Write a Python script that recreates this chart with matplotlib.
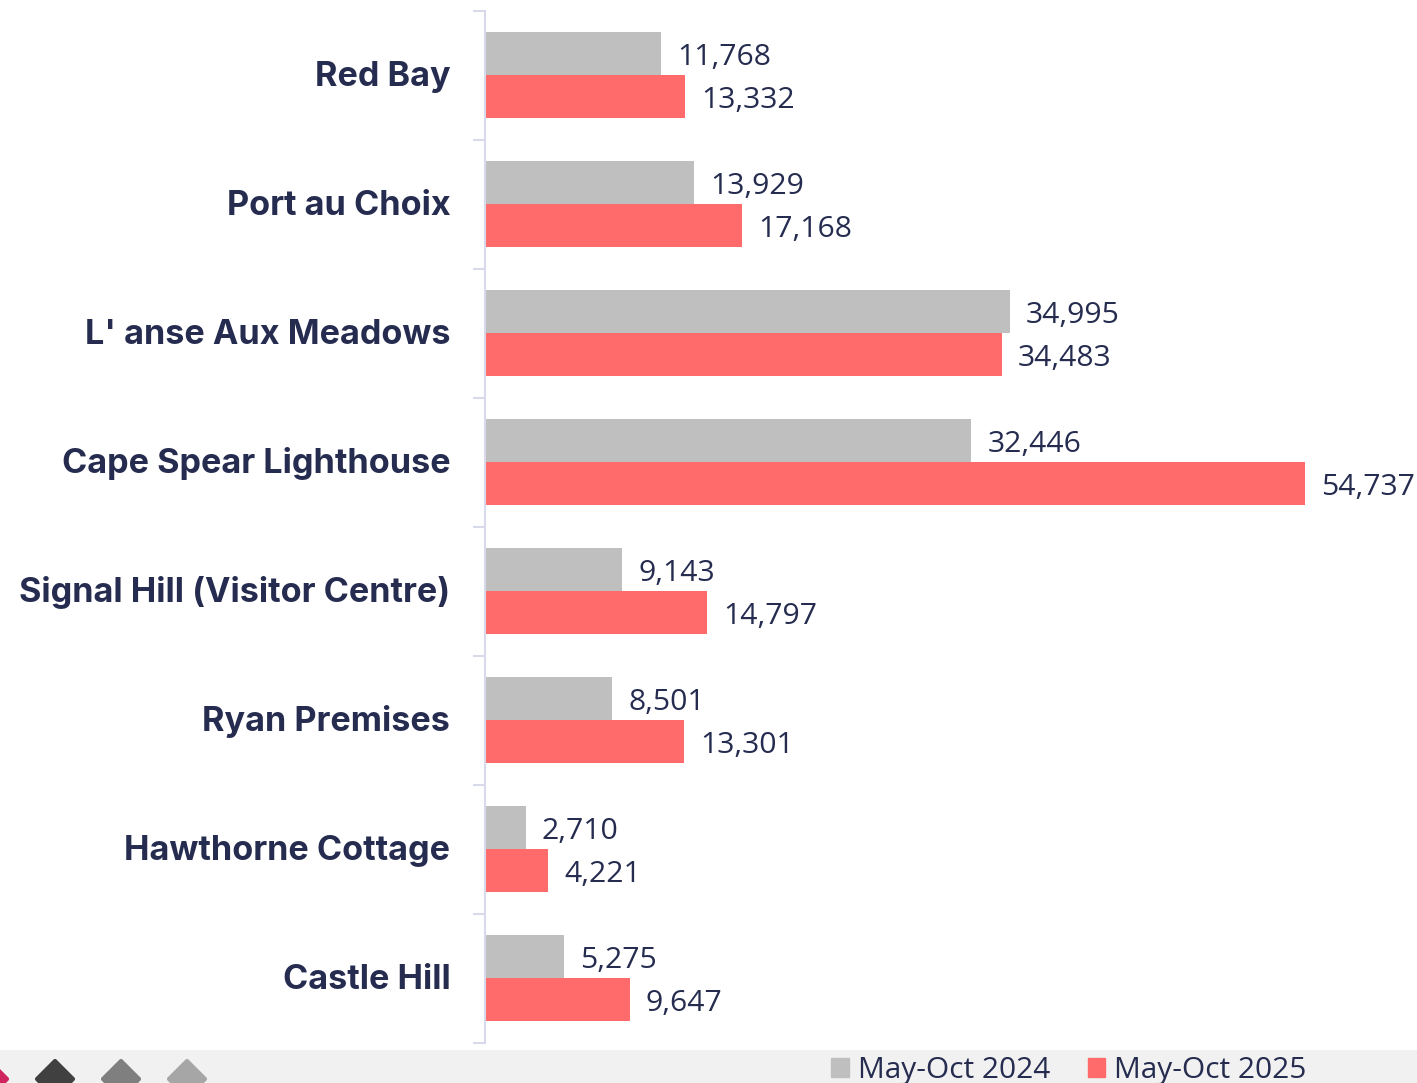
import numpy as np
from matplotlib import pyplot as plt
from matplotlib.patches import Patch, Polygon, Rectangle
from matplotlib.transforms import ScaledTranslation

plt.rcParams['font.family'] = ['Inter', 'DejaVu Sans']

categories = ['Red Bay', 'Port au Choix', "L' anse Aux Meadows", 'Cape Spear Lighthouse',
              'Signal Hill (Visitor Centre)', 'Ryan Premises', 'Hawthorne Cottage', 'Castle Hill']
values_2024 = [11768, 13929, 34995, 32446, 9143, 8501, 2710, 5275]
values_2025 = [13332, 17168, 34483, 54737, 14797, 13301, 4221, 9647]
series_names = ['May-Oct 2024', 'May-Oct 2025']

GREY = '#bfbfbf'
RED = '#ff6b6b'
TEXT = '#252c4f'
AXIS = '#d9d9ec'
NUM_FONT = ['Open Sans', 'DejaVu Sans']
W, H = 1417, 1083

fig = plt.figure(figsize=(W / 100, H / 100), dpi=100)
ax = fig.add_axes([485 / W, 1 - 1042.6 / H, 1 - 485 / W, 1032 / H])

y = np.arange(len(categories))
height = 1 / 3
bars_a = ax.barh(y - height / 2, values_2024, height, color=GREY)
bars_b = ax.barh(y + height / 2, values_2025, height, color=RED)

for rects in (bars_a, bars_b):
    for bar in rects:
        val = int(bar.get_width())
        ax.annotate(f'{val:,}', xy=(val, bar.get_y() + bar.get_height() / 2),
                    xytext=(11.5, -0.6), textcoords='offset points',
                    va='center_baseline', ha='left', fontsize=21.7, color=TEXT, family=NUM_FONT)

ax.set_xlim(0, 62180)
ax.set_ylim(len(categories) - 0.5, -0.5)
ax.set_xticks([])
ax.set_yticks(y)
ax.set_yticklabels(categories, fontsize=24.6, fontweight='bold', color=TEXT)
ax.set_yticks(np.arange(len(categories) + 1) - 0.5, minor=True)
ax.tick_params(axis='y', which='major', length=0, pad=25)
ax.tick_params(axis='y', which='minor', length=9, width=1.5, color=AXIS)
for side in ['top', 'right', 'bottom']:
    ax.spines[side].set_visible(False)
ax.spines['left'].set_color(AXIS)
ax.spines['left'].set_linewidth(1.5)

# category labels sit a little above the bar centre
up = ScaledTranslation(0, 1.5 / 72, fig.dpi_scale_trans)
for lab in ax.get_yticklabels():
    lab.set_transform(lab.get_transform() + up)

# grey strip along the bottom with the cut off diamonds
fig.add_artist(Rectangle((0, 0), 1, 33 / H, transform=fig.transFigure, color='#f1f1f1', lw=0, zorder=-1))
for cx, col in zip([-11, 55, 121, 187], ['#d0245f', '#404040', '#7f7f7f', '#a6a6a6']):
    pts = [(cx - 18, 1079), (cx, 1061), (cx + 18, 1079), (cx, 1097)]
    pts = [(px / W, 1 - py / H) for px, py in pts]
    fig.add_artist(Polygon(pts, closed=True, transform=fig.transFigure, facecolor=col,
                           edgecolor=col, lw=3, joinstyle='round'))

handles = [Patch(color=GREY), Patch(color=RED)]
fig.legend(handles, series_names, loc='center left', bbox_to_anchor=(825 / W, 1 - 1070.5 / H),
           ncol=2, frameon=False, labelcolor=TEXT, handlelength=0.6, handleheight=0.6,
           handletextpad=0.3, columnspacing=1.25, borderpad=0.2, borderaxespad=0,
           prop={'family': NUM_FONT, 'size': 21.5})

fig.savefig('out.png', dpi=100)
